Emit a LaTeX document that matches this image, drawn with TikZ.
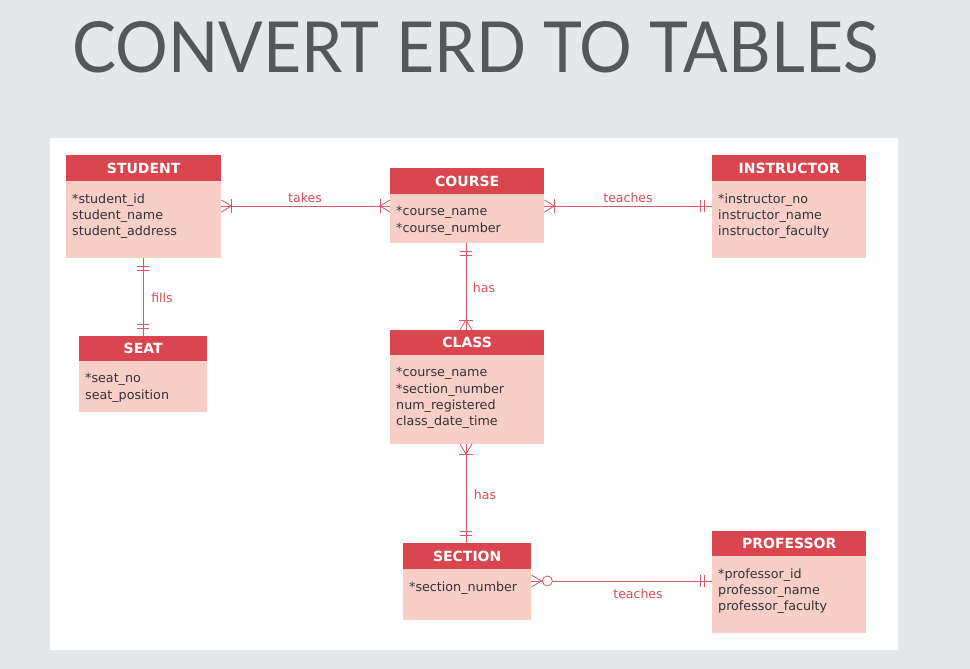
\documentclass[tikz,border=0pt]{standalone}
\usepackage{fontspec}
\setmainfont{DejaVu Sans}
\newfontfamily\titlefont{Lato}
\usetikzlibrary{calc}

\definecolor{hdr}{HTML}{D9464F}
\definecolor{bdy}{HTML}{F7CFC7}
\definecolor{rel}{HTML}{D65A63}
\definecolor{lbl}{HTML}{DA4A55}
\definecolor{ttl}{HTML}{575757}
\definecolor{bg}{HTML}{E5E8EB}
\definecolor{attrtxt}{HTML}{333333}

\tikzset{
  hdrbox/.style={fill=hdr, draw=none, text=white, inner sep=0pt, anchor=north west,
    font=\bfseries\fontsize{14}{16}\selectfont},
  bodybox/.style={fill=bdy, draw=none, inner sep=0pt, anchor=north west},
  attrs/.style={anchor=north west, inner sep=0pt, align=left, text=attrtxt,
    font=\fontsize{12.7}{16.2}\selectfont},
  relline/.style={draw=rel, line width=0.8pt},
  rellabel/.style={text=lbl, inner sep=0pt, font=\fontsize{12.5}{14}\selectfont},
  % one or many: crow foot at the entity plus a bar
  crowbar/.pic={
    \draw[relline] (0,-6) -- (10,0) -- (0,6);
    \draw[relline] (10,-7) -- (10,7);
  },
  % zero or many: crow foot plus a circle
  crowring/.pic={
    \draw[relline] (0,-6) -- (10,0) -- (0,6);
    \draw[relline, fill=white] (16,0) circle (5);
  },
  % exactly one: two bars
  twobars/.pic={
    \draw[relline] (8,-6) -- (8,6);
    \draw[relline] (12,-6) -- (12,6);
  },
}

% \entitybox{name}{x}{y}{width}{header height}{body height}{title}{attributes}
\newcommand{\entitybox}[8]{%
  \node[hdrbox, minimum width=#4pt, minimum height=#5pt] (#1-h) at (#2,#3) {#7};
  \node[bodybox, minimum width=#4pt, minimum height=#6pt] (#1) at (#2,{#3+#5}) {};
  \node[attrs] (#1-a) at ($(#1.north west)+(6,12.2)$) {#8};
}

\begin{document}
\begin{tikzpicture}[x=1pt, y=-1pt]
  % slide background and white panel
  \fill[bg] (0,0) rectangle (970,669);
  \useasboundingbox (0,0) rectangle (970,669);
  \fill[white] (50,138) rectangle (898,650);

  % title
  \node[anchor=south west, inner sep=0pt, text=ttl] (title) at (72,73)
    {\resizebox{806pt}{51pt}{\titlefont CONVERT ERD TO TABLES}};

  % entities
  \entitybox{student}{66}{155}{155}{26}{77}{STUDENT}{*student\_id\\student\_name\\student\_address}
  \entitybox{course}{390}{168}{154}{26}{49}{COURSE}{*course\_name\\*course\_number}
  \entitybox{instructor}{712}{155}{154}{26}{77}{INSTRUCTOR}{*instructor\_no\\instructor\_name\\instructor\_faculty}
  \entitybox{seat}{79}{336}{128}{25}{51}{SEAT}{*seat\_no\\seat\_position}
  \entitybox{class}{390}{330}{154}{25}{89}{CLASS}{*course\_name\\*section\_number\\num\_registered\\class\_date\_time}
  \entitybox{section}{403}{543}{128}{26}{51}{SECTION}{*section\_number}
  \entitybox{professor}{712}{531}{154}{25}{77}{PROFESSOR}{*professor\_id\\professor\_name\\professor\_faculty}

  % attachment points on the entity edges
  \coordinate (st-r) at (student.east |- 0,206);
  \coordinate (co-l) at (course.west |- 0,206);
  \coordinate (co-r) at (course.east |- 0,206);
  \coordinate (in-l) at (instructor.west |- 0,206);
  \coordinate (co-b) at (466,243);
  \coordinate (cl-t) at (466,330);
  \coordinate (cl-b) at (466,444);
  \coordinate (se-t) at (466,543);
  \coordinate (se-r) at (section.east |- 0,581);
  \coordinate (pr-l) at (professor.west |- 0,581);
  \coordinate (st-b) at (143,258);
  \coordinate (sa-t) at (143,336);

  % relationships
  \draw[relline] (st-r) -- (co-l);
  \pic at (st-r) {crowbar};
  \pic[rotate=180] at (co-l) {crowbar};
  \node[rellabel] (takes) at (305,198) {takes};

  \draw[relline] (co-r) -- (in-l);
  \pic at (co-r) {crowbar};
  \pic[rotate=180] at (in-l) {twobars};
  \node[rellabel] (teaches1) at (628,198) {teaches};

  \draw[relline] (co-b) -- (cl-t);
  \pic[rotate=-90] at (co-b) {twobars};
  \pic[rotate=90] at (cl-t) {crowbar};
  \node[rellabel] (has1) at (484,288) {has};

  \draw[relline] (cl-b) -- (se-t);
  \pic[rotate=-90] at (cl-b) {crowbar};
  \pic[rotate=90] at (se-t) {twobars};
  \node[rellabel] (has2) at (485,495) {has};

  \draw[relline] (se-r) -- (pr-l);
  \pic at (se-r) {crowring};
  \pic[rotate=180] at (pr-l) {twobars};
  \node[rellabel] (teaches2) at (638,594) {teaches};

  \draw[relline] (st-b) -- (sa-t);
  \pic[rotate=-90] at (st-b) {twobars};
  \pic[rotate=90] at (sa-t) {twobars};
  \node[rellabel] (fills) at (162,298) {fills};
\end{tikzpicture}
\end{document}
